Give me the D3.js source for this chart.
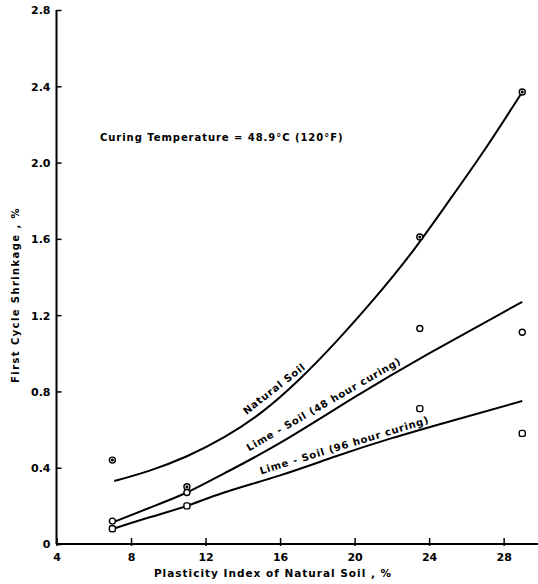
<!DOCTYPE html>
<html>
<head>
<meta charset="utf-8">
<script src="https://cdn.jsdelivr.net/npm/d3@7"></script>
<style>
  html, body { margin: 0; padding: 0; background: #fff; }
  svg { display: block; }
  text { font-family: "DejaVu Sans", sans-serif; fill: #000; }
</style>
</head>
<body>
<svg id="chart" width="538" height="584"></svg>
<script>
// Tick values
const xTicks = [4, 8, 12, 16, 20, 24, 28];
const yTicks = [0, 0.4, 0.8, 1.2, 1.6, 2.0, 2.4, 2.8];

// Measured points: plasticity index (%) vs first cycle shrinkage (%)
const natPI = [7, 11, 23.5, 29];
const natShrink = [0.44, 0.30, 1.61, 2.37];
const lime48PI = [7, 11, 23.5, 29];
const lime48Shrink = [0.12, 0.27, 1.13, 1.11];
const lime96PI = [7, 11, 23.5, 29];
const lime96Shrink = [0.08, 0.20, 0.71, 0.58];

// Hand-fitted trend curves
const natCurvePI = [7.1, 9, 11, 13, 15, 17, 19, 21, 23, 25, 27, 29];
const natCurveShrink = [0.33, 0.385, 0.46, 0.56, 0.69, 0.86, 1.06, 1.28, 1.52, 1.79, 2.07, 2.37];
const lime48CurvePI = [7.05, 9, 11, 13, 16, 20, 24, 29];
const lime48CurveShrink = [0.115, 0.19, 0.27, 0.37, 0.53, 0.77, 1.0, 1.27];
const lime96CurvePI = [7.05, 9, 11, 13, 16, 19, 22, 25, 29];
const lime96CurveShrink = [0.08, 0.14, 0.20, 0.27, 0.36, 0.46, 0.555, 0.64, 0.75];

const svg = d3.select("#chart");
const x = d3.scaleLinear().domain([4, 30]).range([56.5, 540.9]);
const y = d3.scaleLinear().domain([0, 2.8]).range([544, 10]);

// Axes
const yAxis = d3.axisLeft(y).tickValues(yTicks).tickSize(-5).tickPadding(6)
  .tickFormat(d => d === 0 ? "0" : d3.format(".1f")(d));
const gy = svg.append("g").attr("transform", `translate(${x(4)},0)`).call(yAxis);
gy.select(".domain").attr("d", `M0,${y(0)}V${y(2.8)}`).attr("stroke-width", 2);
gy.selectAll(".tick line").attr("stroke-width", 1.5);
gy.selectAll(".tick text").attr("font-size", 11).attr("font-weight", "bold")
  .attr("font-family", "DejaVu Sans, sans-serif").attr("dy", "0.35em");

const xAxis = d3.axisBottom(x).tickValues(xTicks).tickSize(-6).tickPadding(9);
const gx = svg.append("g").attr("transform", `translate(0,${y(0)})`).call(xAxis);
gx.select(".domain").attr("d", `M${x(4)},0H538`).attr("stroke-width", 2);
gx.selectAll(".tick line").attr("y2", 2).attr("y1", -6).attr("stroke-width", 1.5);
gx.selectAll(".tick text").attr("font-size", 11).attr("font-weight", "bold")
  .attr("font-family", "DejaVu Sans, sans-serif");

// Axis titles
svg.append("text")
  .attr("x", 273).attr("y", 577)
  .attr("text-anchor", "middle").attr("font-size", 10.5).attr("font-weight", "bold")
  .attr("letter-spacing", 1.0)
  .text("Plasticity  Index  of  Natural  Soil ,  %");

svg.append("text")
  .attr("transform", "translate(19,295) rotate(-90)")
  .attr("text-anchor", "middle").attr("font-size", 10).attr("font-weight", "bold")
  .attr("letter-spacing", 1.4)
  .text("First  Cycle  Shrinkage ,  %");

svg.append("text")
  .attr("x", 100).attr("y", 141)
  .attr("font-size", 10).attr("font-weight", "bold").attr("letter-spacing", 0.95)
  .text("Curing  Temperature = 48.9°C (120°F)");

// Trend curves
const line = d3.line().x(d => x(d[0])).y(d => y(d[1])).curve(d3.curveNatural);
const curves = [
  d3.zip(natCurvePI, natCurveShrink),
  d3.zip(lime48CurvePI, lime48CurveShrink),
  d3.zip(lime96CurvePI, lime96CurveShrink)
];
svg.append("g").selectAll("path").data(curves).join("path")
  .attr("d", line).attr("fill", "none").attr("stroke", "#000").attr("stroke-width", 2);

// Curve labels
const labels = [
  {t: "Natural  Soil", px: 16.0, py: 0.775, a: -38, off: -6},
  {t: "Lime - Soil (48 hour  curing)", px: 18.6, py: 0.69, a: -30, off: -6},
  {t: "Lime - Soil (96 hour  curing)", px: 19.6, py: 0.47, a: -17, off: -6}
];
svg.append("g").selectAll("text").data(labels).join("text")
  .attr("transform", d => `translate(${x(d.px)},${y(d.py)}) rotate(${d.a}) translate(0,${d.off})`)
  .attr("text-anchor", "middle").attr("font-size", 10).attr("font-weight", "bold")
  .attr("letter-spacing", 0.8)
  .text(d => d.t);

// Data markers
const g = svg.append("g").attr("stroke", "#000").attr("fill", "#fff").attr("stroke-width", 1.4);
g.selectAll("circle.nat").data(d3.zip(natPI, natShrink)).join("circle")
  .attr("class", "nat").attr("cx", d => x(d[0])).attr("cy", d => y(d[1])).attr("r", 3);
g.selectAll("circle.natdot").data(d3.zip(natPI, natShrink)).join("circle")
  .attr("class", "natdot").attr("cx", d => x(d[0])).attr("cy", d => y(d[1])).attr("r", 0.8)
  .attr("fill", "#000");
g.selectAll("circle.l48").data(d3.zip(lime48PI, lime48Shrink)).join("circle")
  .attr("class", "l48").attr("cx", d => x(d[0])).attr("cy", d => y(d[1])).attr("r", 3);
g.selectAll("rect.l96").data(d3.zip(lime96PI, lime96Shrink)).join("rect")
  .attr("class", "l96").attr("x", d => x(d[0]) - 3).attr("y", d => y(d[1]) - 3)
  .attr("width", 6).attr("height", 6).attr("rx", 2);
</script>
</body>
</html>
